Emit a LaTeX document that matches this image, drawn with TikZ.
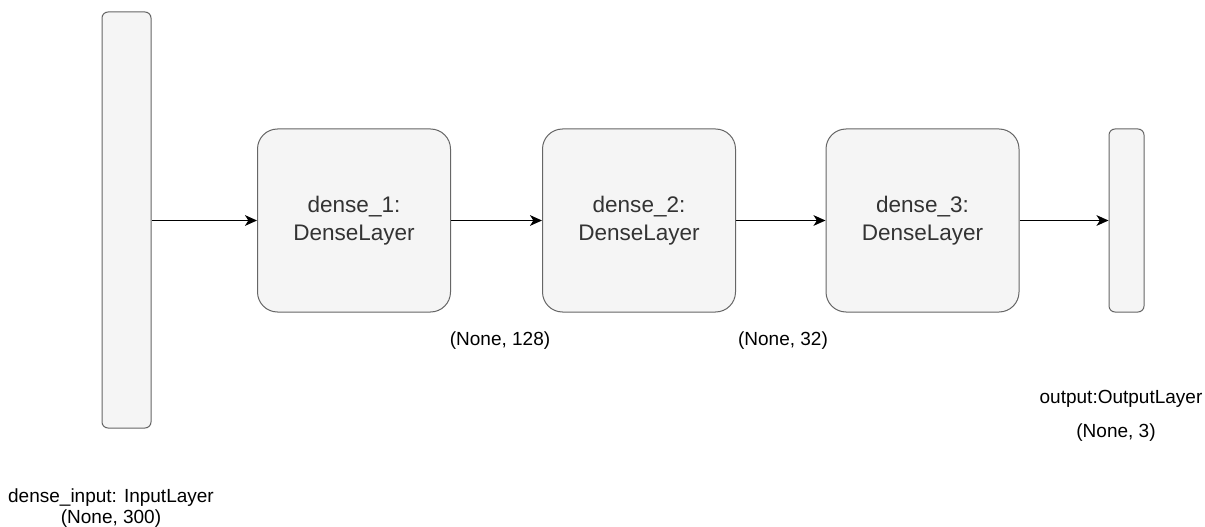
\documentclass[tikz,border=0pt]{standalone}
\usepackage{fontspec}
\setmainfont{Liberation Sans}
\usepackage{tikz}
\usetikzlibrary{arrows.meta,positioning}
\definecolor{layerfill}{HTML}{F5F5F5}
\definecolor{layerline}{HTML}{666666}
\definecolor{layertext}{HTML}{333333}

\begin{document}
\begin{tikzpicture}[x=0.75pt,y=-0.75pt,
  layer/.style={draw=layerline,fill=layerfill,line width=0.75pt,rounded corners=15pt,
    minimum width=144.75pt,minimum height=137.25pt,inner sep=0pt,
    text=layertext,align=center,font=\fontsize{16.9}{21.2}\selectfont},
  bar/.style={draw=layerline,fill=layerfill,line width=0.75pt,rounded corners=4.5pt,inner sep=0pt},
  dims/.style={font=\fontsize{14.25}{15.75}\selectfont,anchor=base,inner sep=0pt},
  flow/.style={-{Stealth[length=9pt,width=8pt,inset=2.5pt]},line width=1pt}]
\useasboundingbox (0,0) rectangle (1205,527);
% input and output bars
\node[bar,minimum width=36.75pt,minimum height=312pt] (inp) at (126.5,220) {};
\node[bar,minimum width=26.25pt,minimum height=137.25pt] (out) at (1126.5,220.5) {};
% dense layers
\foreach \i/\x in {1/354,2/639,3/922.5}
  \node[layer] (d\i) at (\x,220.5) {dense\_\i:\\DenseLayer};
% shapes
\node[dims] (s1) at (500,345) {(None, 128)};
\node[dims] (s2) at (783,345) {(None, 32)};
\node[dims] (inlab) at (111,502) {dense\_input: InputLayer};
\node[dims] (inshape) at (111,523) {(None, 300)};
\node[dims] (outlab) at (1121,403) {output:OutputLayer};
\node[dims] (outshape) at (1116,437) {(None, 3)};
% connections
\draw[flow] (inp.east |- d1.west) -- (d1.west);
\draw[flow] (d1) -- (d2);
\draw[flow] (d2) -- (d3);
\draw[flow] (d3.east) -- (out.west |- d3.east);
\end{tikzpicture}
\end{document}
